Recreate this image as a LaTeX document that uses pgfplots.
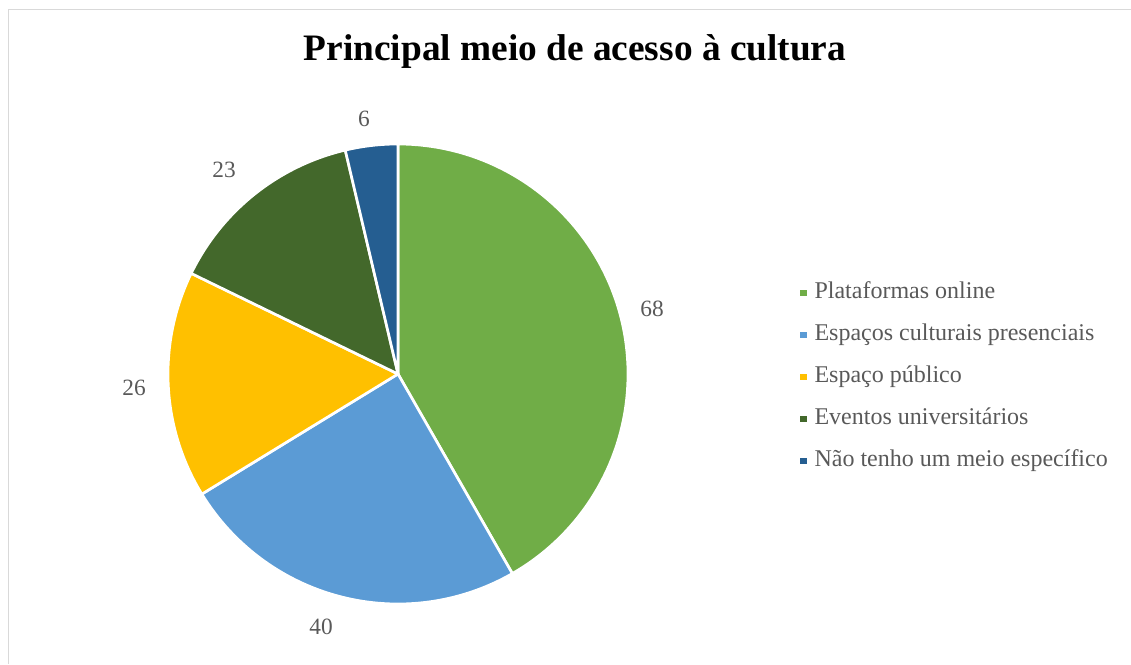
\documentclass[border=0pt]{standalone}
\usepackage{fontspec}
\setmainfont{Liberation Serif}
\usepackage{pgfplots}
\pgfplotsset{compat=1.18}
\definecolor{cOnline}{HTML}{70AD47}
\definecolor{cEspacos}{HTML}{5B9BD5}
\definecolor{cPublico}{HTML}{FFC000}
\definecolor{cEventos}{HTML}{43682B}
\definecolor{cNao}{HTML}{255E91}
\definecolor{txt}{HTML}{595959}
\definecolor{frame}{HTML}{D9D9D9}

% slice values
\def\vA{68}\def\vB{40}\def\vC{26}\def\vD{23}\def\vE{6}

\begin{document}
\begin{tikzpicture}
\pgfmathsetmacro\tot{\vA+\vB+\vC+\vD+\vE}
\pgfmathsetmacro\sA{90}
\pgfmathsetmacro\sB{\sA-\vA/\tot*360}
\pgfmathsetmacro\sC{\sB-\vB/\tot*360}
\pgfmathsetmacro\sD{\sC-\vC/\tot*360}
\pgfmathsetmacro\sE{\sD-\vD/\tot*360}
\pgfmathsetmacro\sF{\sE-\vE/\tot*360}
\begin{axis}[
  scale only axis,
  width=848.25pt, height=498pt,
  xmin=0, xmax=1131, ymin=0, ymax=664,
  hide axis, clip=false,
  legend cell align=left,
  legend style={draw=none, fill=none, at={(axis cs:800,287)}, anchor=west,
    inner sep=0pt, row sep=15.5pt, column sep=5.5pt,
    font=\fontsize{18}{20}\selectfont\color{txt},
    nodes={inner sep=0pt, text height=12pt, text depth=4pt}},
  legend image code/.code={\path[#1, draw=none] (0pt,-2.6pt) rectangle (5.2pt,2.6pt);},
  slice/.style={fill=#1, draw=white, line width=2pt, line join=round, samples=90, variable=\t},
]
\addplot[slice=cOnline, domain=\sB:\sA] ({398+230*cos(t)},{290+230*sin(t)}) -- (axis cs:398,290) -- cycle;
\addlegendentry{Plataformas online}
\addplot[slice=cEspacos, domain=\sC:\sB] ({398+230*cos(t)},{290+230*sin(t)}) -- (axis cs:398,290) -- cycle;
\addlegendentry{Espaços culturais presenciais}
\addplot[slice=cPublico, domain=\sD:\sC] ({398+230*cos(t)},{290+230*sin(t)}) -- (axis cs:398,290) -- cycle;
\addlegendentry{Espaço público}
\addplot[slice=cEventos, domain=\sE:\sD] ({398+230*cos(t)},{290+230*sin(t)}) -- (axis cs:398,290) -- cycle;
\addlegendentry{Eventos universitários}
\addplot[slice=cNao, domain=\sF:\sE] ({398+230*cos(t)},{290+230*sin(t)}) -- (axis cs:398,290) -- cycle;
\addlegendentry{Não tenho um meio específico}

% data labels
\tikzset{lbl/.style={font=\fontsize{17.5}{20}\selectfont, text=txt, inner sep=0pt}}
\node[lbl] at (axis cs:652,355) {\vA};
\node[lbl] at (axis cs:321,37) {\vB};
\node[lbl] at (axis cs:134,276) {\vC};
\node[lbl] at (axis cs:224,494) {\vD};
\node[lbl] at (axis cs:364,545) {\vE};

% title and chart frame
\node[font=\fontsize{28}{32}\selectfont\bfseries] at (axis cs:575,612) {Principal meio de acesso à cultura};
\draw[frame, line width=1.2pt] (axis cs:8.5,0) -- (axis cs:8.5,654.5) -- (axis cs:1131,654.5);
\end{axis}
\pgfresetboundingbox
\path[use as bounding box] (current axis.south west) rectangle (current axis.north east);
\end{tikzpicture}
\end{document}
